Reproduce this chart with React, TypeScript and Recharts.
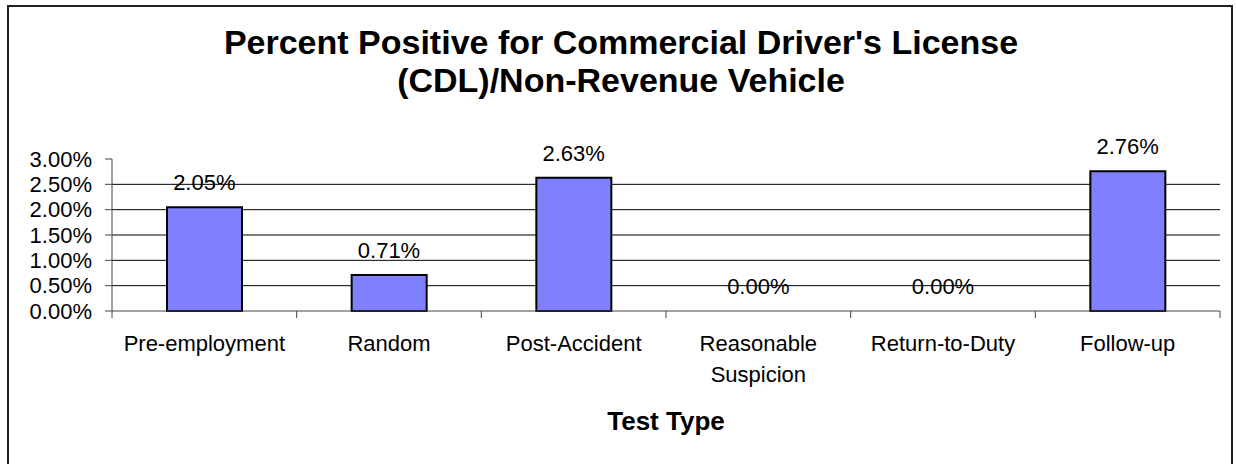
import React from 'react';
import { ComposedChart, Bar, Line, XAxis, YAxis, CartesianGrid, LabelList } from 'recharts';

// chart data
const CATEGORIES = [
  'Pre-employment',
  'Random',
  'Post-Accident',
  'Reasonable Suspicion',
  'Return-to-Duty',
  'Follow-up',
];
const PERCENT_POSITIVE = [2.05, 0.71, 2.63, 0.0, 0.0, 2.76];
const Y_TICKS = [0, 0.5, 1, 1.5, 2, 2.5, 3];
const GRID_VALUES = [0.5, 1, 1.5, 2, 2.5];
const TITLE_LINES = ["Percent Positive for Commercial Driver's License", '(CDL)/Non-Revenue Vehicle'];
const X_TITLE = 'Test Type';

const data = CATEGORIES.map((name, i) => ({ name, value: PERCENT_POSITIVE[i] }));

// layout
const W = 1236;
const H = 464;
const MARGIN = { top: 159, right: 16, bottom: 53, left: 0 };
const Y_AXIS_W = 112;
const PLOT_W = W - MARGIN.left - MARGIN.right - Y_AXIS_W;
const STEP = PLOT_W / CATEGORIES.length;
const FONT = 'Arial, "Liberation Sans", sans-serif';
const AXIS_COLOR = '#444';

const pct = (v: number) => `${Number(v).toFixed(2)}%`;

// x축 눈금: 카테고리 사이에 눈금선, 라벨은 공백에서 줄바꿈
const CategoryTick = ({ x, y, payload, index }: any) => {
  const lines = String(payload.value).split(' ');
  const half = STEP / 2;
  return (
    <g>
      <line x1={x - half} x2={x - half} y1={y} y2={y + 7} stroke={AXIS_COLOR} />
      {index === CATEGORIES.length - 1 && (
        <line x1={x + half} x2={x + half} y1={y} y2={y + 7} stroke={AXIS_COLOR} />
      )}
      <text x={x} y={y + 40} textAnchor="middle" fontSize={22} fontFamily={FONT} fill="#000">
        {lines.map((l, i) => (
          <tspan key={i} x={x} dy={i === 0 ? 0 : 30.5}>
            {l}
          </tspan>
        ))}
      </text>
    </g>
  );
};

export default function App() {
  return (
    <div style={{ position: 'absolute', left: 0, top: 0, width: W, height: H, background: '#fff', overflow: 'hidden' }}>
      <ComposedChart width={W} height={H} data={data} margin={MARGIN}>
        <CartesianGrid vertical={false} horizontalValues={GRID_VALUES} stroke="#000" />
        <XAxis
          dataKey="name"
          height={100}
          interval={0}
          tickSize={0}
          tickMargin={0}
          tickLine={false}
          axisLine={{ stroke: AXIS_COLOR }}
          tick={<CategoryTick />}
        />
        <YAxis
          width={Y_AXIS_W}
          domain={[0, 3]}
          ticks={Y_TICKS}
          interval={0}
          tickSize={7}
          tickMargin={13}
          tickFormatter={pct}
          tick={{ fontSize: 22, fill: '#000', fontFamily: FONT }}
          tickLine={{ stroke: AXIS_COLOR }}
          axisLine={{ stroke: AXIS_COLOR }}
        />
        <Bar
          dataKey="value"
          fill="#8080FF"
          stroke="#000"
          strokeWidth={2}
          barSize={75}
          isAnimationActive={false}
        />
        {/* 값 라벨 전용 (0% 막대도 라벨 표시) */}
        <Line
          dataKey="value"
          stroke="none"
          dot={false}
          activeDot={false}
          legendType="none"
          isAnimationActive={false}
        >
          <LabelList
            dataKey="value"
            position="top"
            offset={17}
            formatter={(v: any) => pct(v)}
            fontSize={22}
            fontFamily={FONT}
            fill="#000"
            stroke="none"
          />
        </Line>
      </ComposedChart>

      {/* 제목, 축 제목, 외곽선 */}
      <svg
        width={W}
        height={H}
        style={{ position: 'absolute', left: 0, top: 0, pointerEvents: 'none' }}
      >
        <rect x={8} y={6} width={1224} height={500} fill="none" stroke="#222" strokeWidth={2} />
        {TITLE_LINES.map((t, i) => (
          <text
            key={i}
            x={621}
            y={54 + i * 38}
            textAnchor="middle"
            fontSize={34}
            fontWeight="bold"
            fontFamily={FONT}
            fill="#000"
          >
            {t}
          </text>
        ))}
        <text
          x={MARGIN.left + Y_AXIS_W + PLOT_W / 2}
          y={430}
          textAnchor="middle"
          fontSize={26}
          fontWeight="bold"
          fontFamily={FONT}
          fill="#000"
        >
          {X_TITLE}
        </text>
      </svg>
    </div>
  );
}
